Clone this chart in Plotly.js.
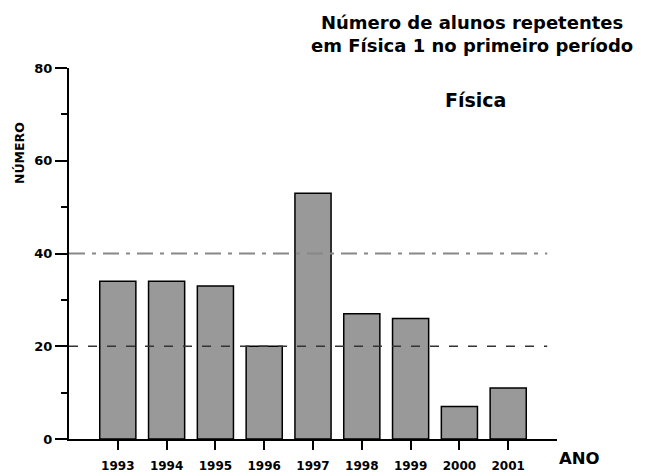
<!DOCTYPE html>
<html><head><meta charset="utf-8">
<script src="https://cdn.plot.ly/plotly-3.0.1.min.js"></script>
<style>html,body{margin:0;padding:0;background:#fff}#chart{width:645px;height:473px}</style>
</head><body><div id="chart"></div>
<script>
const years = [1993, 1994, 1995, 1996, 1997, 1998, 1999, 2000, 2001];
const repetentes = [34, 34, 33, 20, 53, 27, 26, 7, 11];
const yTicks = [0, 20, 40, 60, 80];
const refLevels = [40, 20];

const F = 'DejaVu Sans, sans-serif';
const trace = {
  type: 'bar', x: years, y: repetentes, width: 0.74,
  marker: {color: '#999999', line: {color: '#000', width: 1.5}},
  hoverinfo: 'skip'
};
const layout = {
  width: 645, height: 473,
  margin: {l: 69, r: 88, t: 68, b: 34},
  paper_bgcolor: '#fff', plot_bgcolor: '#fff',
  showlegend: false,
  font: {family: F, color: '#000'},
  xaxis: {
    range: [1992, 2002], autorange: false, tickvals: years, ticktext: years.map(String),
    ticks: 'outside', ticklen: 9, tickwidth: 2, tickcolor: '#000',
    showline: true, linewidth: 2, linecolor: '#000', showgrid: false, zeroline: false,
    tickfont: {family: F, size: 12, color: '#000', weight: 'bold'}, ticklabelstandoff: 6
  },
  yaxis: {
    range: [0, 80], autorange: false, tickvals: yTicks,
    ticks: 'outside', ticklen: 12, tickwidth: 2, tickcolor: '#000',
    minor: {dtick: 10, ticks: 'outside', ticklen: 6, tickwidth: 2, tickcolor: '#000', showgrid: false},
    showline: true, linewidth: 2, linecolor: '#000', showgrid: false, zeroline: false,
    tickfont: {family: F, size: 13, color: '#000', weight: 'bold'}
  },
  shapes: [
    {type: 'line', xref: 'x', yref: 'y', x0: 1992, x1: 2001.8, y0: refLevels[0], y1: refLevels[0],
     line: {color: '#888', width: 2, dash: '16px,7px,4px,7px'}, layer: 'above'},
    {type: 'line', xref: 'x', yref: 'y', x0: 1992, x1: 2001.8, y0: refLevels[1], y1: refLevels[1],
     line: {color: '#333', width: 1.3, dash: '9px,10px'}, layer: 'above'}
  ],
  annotations: [
    {text: '<b>Número de alunos repetentes<br>em Física 1 no primeiro período</b>', xref: 'paper', yref: 'paper',
     x: 1.0, y: 1, xanchor: 'center', yanchor: 'bottom', xshift: -85, yshift: 10, showarrow: false,
     font: {family: F, size: 18, color: '#000'}, align: 'center'},
    {text: '<b>Física</b>', xref: 'paper', yref: 'paper', x: 1.0, y: 1, xanchor: 'center', yanchor: 'middle',
     xshift: -82, yshift: -32, showarrow: false, font: {family: F, size: 19, color: '#000'}},
    {text: '<b>NÚMERO</b>', xref: 'paper', yref: 'paper', x: 0, y: 1, xanchor: 'center', yanchor: 'middle',
     xshift: -50, yshift: -85, textangle: -90, showarrow: false, font: {family: F, size: 12.5, color: '#000'}},
    {text: '<b>ANO</b>', xref: 'paper', yref: 'paper', x: 1, y: 0, xanchor: 'left', yanchor: 'middle',
     xshift: 0, yshift: -19, showarrow: false, font: {family: F, size: 16.5, color: '#000'}}
  ]
};
Plotly.newPlot('chart', [trace], layout, {displayModeBar: false, staticPlot: true});
</script></body></html>
